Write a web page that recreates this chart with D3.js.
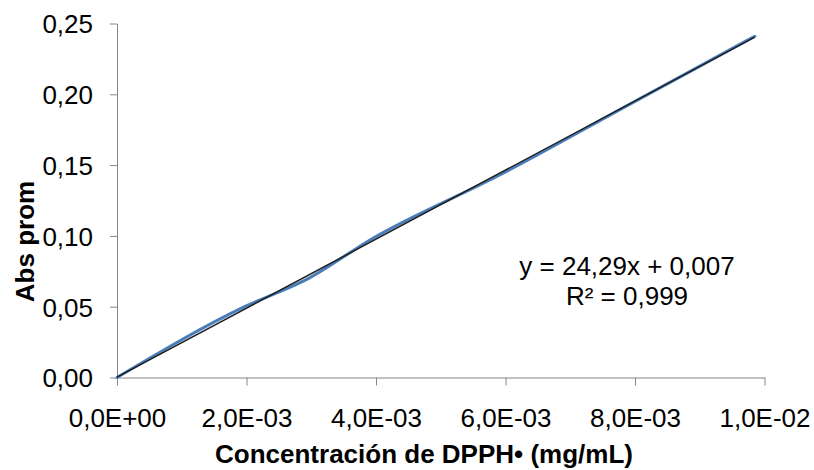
<!DOCTYPE html>
<html>
<head>
<meta charset="utf-8">
<script src="https://cdn.jsdelivr.net/npm/d3@7"></script>
<style>
  html, body { margin: 0; padding: 0; background: #fff; }
  svg { display: block; font-family: "Liberation Sans", Arial, sans-serif; }
</style>
</head>
<body>
<svg id="chart" width="814" height="470"></svg>
<script>
// DPPH concentration (mg/mL) and mean absorbance
const concentration = [0, 0.00197, 0.00296, 0.00394, 0.00591, 0.00788, 0.00985];
const absorbance    = [0.000, 0.050, 0.070, 0.098, 0.143, 0.192, 0.241];

const xTicks = [0, 0.002, 0.004, 0.006, 0.008, 0.010];
const yTicks = [0, 0.05, 0.10, 0.15, 0.20, 0.25];

const equationText = "y = 24,29x + 0,007";
const r2Text = "R² = 0,999";
const xTitle = "Concentración de DPPH• (mg/mL)";
const yTitle = "Abs prom";

const svg = d3.select("#chart");
const plot = { left: 117, right: 764.5, top: 23.5, bottom: 377.5 };

const x = d3.scaleLinear().domain([0, 0.01]).range([plot.left, plot.right]);
const y = d3.scaleLinear().domain([0, 0.25]).range([plot.bottom, plot.top]);

const axisColor = "#868686";
const fontSize = 26;

// Tick formatters with decimal comma
const fmtY = v => d3.format(".2f")(v).replace(".", ",");
const fmtX = v => {
  if (v === 0) return "0,0E+00";
  const e = Math.floor(Math.log10(Math.abs(v)) + 1e-9);
  const m = v / Math.pow(10, e);
  const sign = e < 0 ? "-" : "+";
  return m.toFixed(1).replace(".", ",") + "E" + sign + String(Math.abs(e)).padStart(2, "0");
};

// Y axis
const gy = svg.append("g")
  .attr("transform", `translate(${plot.left},0)`)
  .call(d3.axisLeft(y).tickValues(yTicks).tickFormat(fmtY).tickSize(7).tickSizeOuter(0).tickPadding(17));
gy.select(".domain").attr("stroke", axisColor);
gy.selectAll(".tick line").attr("stroke", axisColor);
gy.selectAll(".tick text")
  .attr("fill", "#000")
  .attr("font-size", fontSize)
  .attr("font-family", "Liberation Sans, Arial, sans-serif")
  .attr("dy", "0.36em");

// X axis
const gx = svg.append("g")
  .attr("transform", `translate(0,${plot.bottom})`)
  .call(d3.axisBottom(x).tickValues(xTicks).tickFormat(fmtX).tickSize(8).tickSizeOuter(0));
gx.select(".domain").attr("stroke", axisColor);
gx.selectAll(".tick line").attr("stroke", axisColor);
gx.selectAll(".tick text")
  .attr("fill", "#000")
  .attr("font-size", fontSize)
  .attr("font-family", "Liberation Sans, Arial, sans-serif")
  .attr("y", 49.5)
  .attr("dy", 0);

// Measured series
const pts = concentration.map((c, i) => [c, absorbance[i]]);
svg.append("path")
  .datum(pts)
  .attr("fill", "none")
  .attr("stroke", "#4a7ebb")
  .attr("stroke-width", 3)
  .attr("stroke-linecap", "round")
  .attr("d", d3.line().x(d => x(d[0])).y(d => y(d[1])).curve(d3.curveMonotoneX));

// Least-squares linear trendline
const mx = d3.mean(concentration), my = d3.mean(absorbance);
let sxy = 0, sxx = 0;
concentration.forEach((c, i) => { sxy += (c - mx) * (absorbance[i] - my); sxx += (c - mx) * (c - mx); });
const slope = sxy / sxx, intercept = my - slope * mx;
const xExt = d3.extent(concentration);
svg.append("path")
  .datum(xExt.map(c => [c, slope * c + intercept]))
  .attr("fill", "none")
  .attr("stroke", "#1e1e1e")
  .attr("stroke-width", 1.5)
  .attr("d", d3.line().x(d => x(d[0])).y(d => y(d[1])));

// Equation label
const eq = svg.append("g").attr("font-size", fontSize).attr("fill", "#000").attr("text-anchor", "middle");
eq.append("text").attr("x", 627).attr("y", 275).text(equationText);
eq.append("text").attr("x", 627).attr("y", 305).text(r2Text);

// Axis titles
svg.append("text")
  .attr("x", 424)
  .attr("y", 463)
  .attr("text-anchor", "middle")
  .attr("font-size", fontSize)
  .attr("font-weight", "bold")
  .attr("fill", "#000")
  .text(xTitle);

svg.append("text")
  .attr("transform", `translate(34,${(plot.top + plot.bottom) / 2 + 41}) rotate(-90)`)
  .attr("text-anchor", "middle")
  .attr("font-size", fontSize)
  .attr("font-weight", "bold")
  .attr("fill", "#000")
  .text(yTitle);
</script>
</body>
</html>
